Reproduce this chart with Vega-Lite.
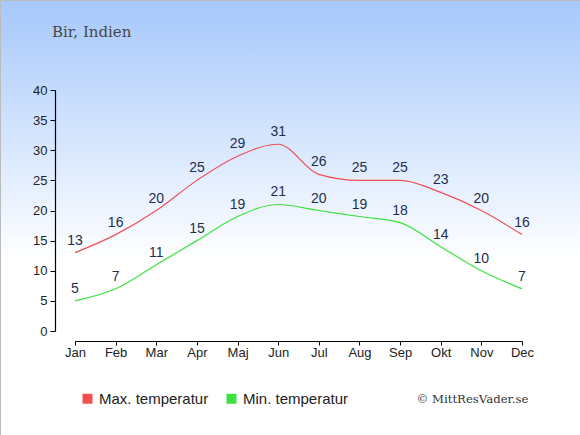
{
  "$schema": "https://vega.github.io/schema/vega-lite/v6.json",
  "width": 580,
  "height": 435,
  "autosize": {"type": "none"},
  "padding": 0,
  "title": {
    "text": "Bir, Indien",
    "anchor": "start",
    "frame": "group",
    "orient": "top",
    "dx": 52,
    "dy": 15,
    "offset": -37,
    "baseline": "alphabetic",
    "font": "DejaVu Serif",
    "fontSize": 15,
    "fontWeight": "normal",
    "color": "#474747"
  },
  "data": {
    "values": [
      {"month": "Jan", "serie": "Max. temperatur", "temp": 13},
      {"month": "Feb", "serie": "Max. temperatur", "temp": 16},
      {"month": "Mar", "serie": "Max. temperatur", "temp": 20},
      {"month": "Apr", "serie": "Max. temperatur", "temp": 25},
      {"month": "Maj", "serie": "Max. temperatur", "temp": 29},
      {"month": "Jun", "serie": "Max. temperatur", "temp": 31},
      {"month": "Jul", "serie": "Max. temperatur", "temp": 26},
      {"month": "Aug", "serie": "Max. temperatur", "temp": 25},
      {"month": "Sep", "serie": "Max. temperatur", "temp": 25},
      {"month": "Okt", "serie": "Max. temperatur", "temp": 23},
      {"month": "Nov", "serie": "Max. temperatur", "temp": 20},
      {"month": "Dec", "serie": "Max. temperatur", "temp": 16},
      {"month": "Jan", "serie": "Min. temperatur", "temp": 5},
      {"month": "Feb", "serie": "Min. temperatur", "temp": 7},
      {"month": "Mar", "serie": "Min. temperatur", "temp": 11},
      {"month": "Apr", "serie": "Min. temperatur", "temp": 15},
      {"month": "Maj", "serie": "Min. temperatur", "temp": 19},
      {"month": "Jun", "serie": "Min. temperatur", "temp": 21},
      {"month": "Jul", "serie": "Min. temperatur", "temp": 20},
      {"month": "Aug", "serie": "Min. temperatur", "temp": 19},
      {"month": "Sep", "serie": "Min. temperatur", "temp": 18},
      {"month": "Okt", "serie": "Min. temperatur", "temp": 14},
      {"month": "Nov", "serie": "Min. temperatur", "temp": 10},
      {"month": "Dec", "serie": "Min. temperatur", "temp": 7}
    ]
  },
  "encoding": {
    "x": {
      "field": "month",
      "type": "ordinal",
      "sort": ["Jan", "Feb", "Mar", "Apr", "Maj", "Jun", "Jul", "Aug", "Sep", "Okt", "Nov", "Dec"],
      "scale": {"type": "point", "range": [75, 522], "padding": 0},
      "axis": {
        "orient": "bottom",
        "offset": -94,
        "labelAngle": 0,
        "tickSize": 4,
        "labelPadding": 1,
        "title": "© MittResVader.se",
        "titleFont": "DejaVu Serif",
        "titleFontSize": 11.7,
        "titleFontWeight": "normal",
        "titleColor": "#333333",
        "titleAlign": "right",
        "titleBaseline": "alphabetic",
        "titleX": 528,
        "titleY": 61
      }
    },
    "y": {
      "field": "temp",
      "type": "quantitative",
      "scale": {"domain": [0, 40], "range": [331, 90], "nice": false, "zero": true},
      "axis": {
        "orient": "left",
        "offset": -55,
        "values": [0, 5, 10, 15, 20, 25, 30, 35, 40],
        "tickSize": 5,
        "labelPadding": 3,
        "title": null,
        "grid": false
      }
    }
  },
  "layer": [
    {
      "mark": {"type": "line", "interpolate": "monotone", "strokeWidth": 1.2},
      "encoding": {
        "color": {
          "field": "serie",
          "type": "nominal",
          "scale": {"domain": ["Max. temperatur", "Min. temperatur"], "range": ["#f05050", "#3ee23e"]},
          "legend": {
            "orient": "none",
            "direction": "horizontal",
            "legendX": 80,
            "legendY": 391,
            "title": null,
            "symbolType": "square",
            "symbolSize": 100,
            "columnPadding": 15,
            "encode": {
              "symbols": {
                "update": {
                  "fill": {"scale": "color", "field": "value"},
                  "strokeWidth": {"value": 0}
                }
              }
            }
          }
        }
      }
    },
    {
      "mark": {
        "type": "text",
        "dy": -8,
        "baseline": "alphabetic",
        "font": "Liberation Sans",
        "fontSize": 14,
        "color": "#1e2e4e"
      },
      "encoding": {
        "text": {"field": "temp", "type": "quantitative"}
      }
    }
  ],
  "config": {
    "view": {
      "stroke": "#bbbbbb",
      "strokeWidth": 1,
      "fill": {
        "gradient": "linear",
        "x1": 0, "y1": 0, "x2": 0, "y2": 1,
        "stops": [
          {"offset": 0, "color": "#a6c8fc"},
          {"offset": 0.6, "color": "#ffffff"},
          {"offset": 1, "color": "#ffffff"}
        ]
      }
    },
    "background": "#ffffff",
    "axis": {
      "labelFont": "Liberation Sans",
      "labelFontSize": 13,
      "labelColor": "#222222",
      "domainColor": "#000000",
      "tickColor": "#000000",
      "domainWidth": 1.2,
      "tickWidth": 1
    },
    "legend": {
      "labelFont": "Liberation Sans",
      "labelFontSize": 15,
      "labelColor": "#222222",
      "labelOffset": 4
    }
  }
}
